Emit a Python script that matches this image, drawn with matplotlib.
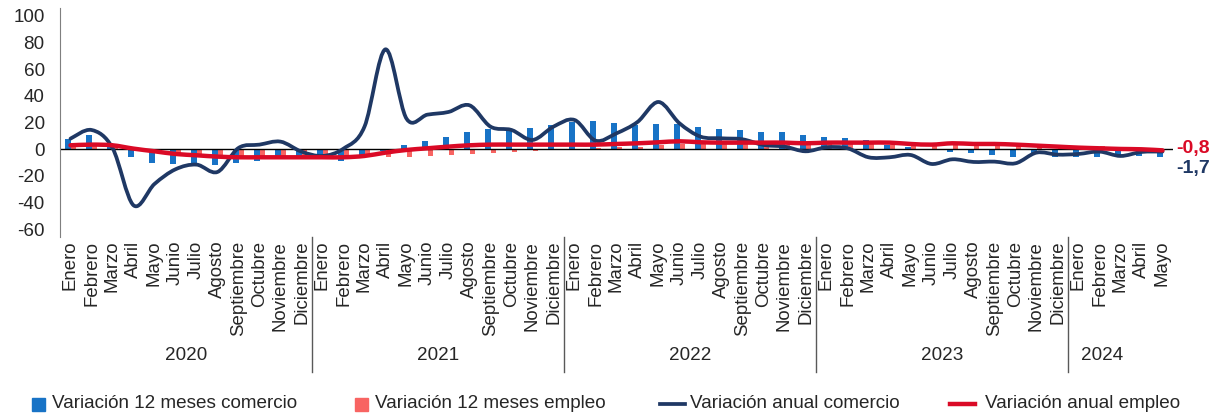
import numpy as np
import matplotlib.pyplot as plt
from matplotlib.path import Path
from matplotlib.patches import PathPatch, Rectangle
from matplotlib.lines import Line2D

plt.rcParams['font.family'] = ['Liberation Sans', 'DejaVu Sans']
plt.rcParams['axes.unicode_minus'] = False

meses = ['Enero', 'Febrero', 'Marzo', 'Abril', 'Mayo', 'Junio', 'Julio',
         'Agosto', 'Septiembre', 'Octubre', 'Noviembre', 'Diciembre']
years = ['2020', '2021', '2022', '2023', '2024']
month_labels = meses * 4 + meses[:5]

# variación 12 meses (barras)
var12_comercio = [8, 11, 5, -6, -10.5, -11, -10.5, -11.5, -10.5, -9, -6.5, -5.5,
                  -6.5, -8.5, -5.5, -1, 3, 6.25, 9.5, 13.25, 15, 14.5, 16.25, 18,
                  20.75, 21.25, 20, 18.25, 19, 19, 17, 15.25, 14.5, 13.25, 12.75, 10.75,
                  9, 8.5, 7, 3, 2, -0.5, -1.75, -3, -4, -5.5, -3.5, -5.5,
                  -6, -6, -4.5, -5, -5.5]
var12_empleo = [3, 4, 3, -1, -3, -5, -6, -6.5, -6, -6.5, -6.5, -6,
                -5, -5, -4.5, -5.5, -5.5, -4.75, -4.25, -3.5, -3, -2.25, -1, -0.5,
                0.5, 1, 1.5, 2, 3, 4, 4, 4, 4, 4, 3.5, 3.5,
                4, 4, 4, 3.5, 4, 4, 4.5, 4, 3.5, 3.5, 3.5, 3,
                2.5, 2.5, 1.5, 1, 0.5]

# variación anual (líneas)
anual_comercio = [8, 14.5, 1, -42, -26, -15, -11.5, -17, 1, 3.5, 5.75, -1.75,
                  -5, 0.5, 17, 75, 23, 26, 28, 33, 17, 14.5, 7, 17,
                  22, 6.5, 12, 20.5, 35.5, 19.5, 9.5, 8.25, 7.5, 3.25, 2, -1.5,
                  1.5, 0.75, -6, -6, -4.25, -11, -7.5, -9.5, -9.25, -10.5, -2.5, -4,
                  -3.5, -1.75, -5, -2, -1.7]
anual_empleo = [3, 3.5, 3, 0.5, -1.5, -3.5, -4.5, -5.5, -6, -6, -6, -6,
                -6, -6, -5, -2.5, -0.5, 0.75, 2, 3, 3.5, 3.5, 3.5, 3.5,
                3.5, 3.5, 4, 4.5, 5.25, 6, 5.25, 5, 5, 5, 5, 4.5,
                5, 5, 5, 5, 4, 3.5, 4.5, 4, 4, 3.5, 2.75, 2,
                1.25, 0.75, 0.25, 0, -0.8]

c_bar_com = '#1873C6'
c_bar_emp = '#F86462'
c_line_com = '#1F3864'
c_line_emp = '#DA0A26'
c_text = '#262626'
fs = 13.6


def smooth_path(ys):
    # curva bezier tipo excel que pasa por cada punto
    pts = np.column_stack([np.arange(len(ys)), ys]).astype(float)
    n = len(pts)
    verts = [pts[0]]
    codes = [Path.MOVETO]
    for i in range(n - 1):
        p0 = pts[max(i - 1, 0)]
        p1 = pts[i]
        p2 = pts[i + 1]
        p3 = pts[min(i + 2, n - 1)]
        verts += [p1 + (p2 - p0) / 6, p2 - (p3 - p1) / 6, p2]
        codes += [Path.CURVE4] * 3
    return Path(verts, codes)


W, H = 1216, 417
fig = plt.figure(figsize=(W / 100, H / 100), dpi=100)
ax = fig.add_axes([60 / W, 1 - 236.6 / H, 1113 / W, 228.6 / H])

x = np.arange(len(month_labels))
w = 0.25
ax.bar(x - w / 2, var12_comercio, w, color=c_bar_com, zorder=2)
ax.bar(x + w / 2, var12_empleo, w, color=c_bar_emp, zorder=2)
ax.axhline(0, color='black', lw=1, zorder=2.5)

ax.add_patch(PathPatch(smooth_path(anual_comercio), fill=False, ec=c_line_com,
                       lw=2.7, capstyle='round', joinstyle='round', zorder=3))
ax.add_patch(PathPatch(smooth_path(anual_empleo), fill=False, ec=c_line_emp,
                       lw=3.2, capstyle='round', joinstyle='round', zorder=4))

ax.annotate('-0,8', xy=(x[-1], anual_empleo[-1]), xytext=(10, 1),
            textcoords='offset points', color=c_line_emp, fontsize=14,
            fontweight='bold', va='center', ha='left', annotation_clip=False)
ax.annotate('-1,7', xy=(x[-1], anual_comercio[-1]), xytext=(10, -12.5),
            textcoords='offset points', color=c_line_com, fontsize=14,
            fontweight='bold', va='center', ha='left', annotation_clip=False)

ax.set_xlim(-0.5, len(x) - 0.5)
ax.set_ylim(-65.5, 106)
ax.set_yticks(range(-60, 101, 20))
ax.tick_params(axis='y', length=0, pad=11, labelsize=fs, labelcolor=c_text)
ax.set_xticks(x)
ax.set_xticklabels(month_labels, rotation=90)
ax.tick_params(axis='x', length=0, pad=3, labelsize=fs - 0.2, labelcolor=c_text)

for s in ['top', 'right', 'bottom']:
    ax.spines[s].set_visible(False)
ax.spines['left'].set_color('#7f7f7f')

# separadores y etiquetas de año
trans = ax.get_xaxis_transform()
for k in range(1, len(years)):
    xs = 12 * k - 0.5
    ax.add_line(Line2D([xs, xs], [0, -0.592], transform=trans, color='#595959',
                       lw=1, clip_on=False))
year_pos = [5.5, 17.5, 29.5, 41.5, 49.1]
for yr, xp in zip(years, year_pos):
    ax.text(xp, -0.522, yr, transform=trans, ha='center', va='center',
            fontsize=fs, color=c_text)

# leyenda dibujada a mano
ly = 1 - 404 / H
names = ['Variación 12 meses comercio', 'Variación 12 meses empleo',
         'Variación anual comercio', 'Variación anual empleo']
fig.patches.append(Rectangle((32 / W, ly - 6.5 / H), 13 / W, 13 / H,
                             color=c_bar_com, transform=fig.transFigure))
fig.patches.append(Rectangle((355 / W, ly - 6.5 / H), 13 / W, 13 / H,
                             color=c_bar_emp, transform=fig.transFigure))
fig.add_artist(Line2D([660 / W, 685 / W], [ly, ly], color=c_line_com, lw=2.7,
                      transform=fig.transFigure))
fig.add_artist(Line2D([950 / W, 975 / W], [ly, ly], color=c_line_emp, lw=3.2,
                      transform=fig.transFigure))
for name, tx in zip(names, [52, 375, 690, 985]):
    fig.text(tx / W, ly, name, ha='left', va='center', fontsize=fs, color=c_text)

fig.savefig('out.png', dpi=100)
